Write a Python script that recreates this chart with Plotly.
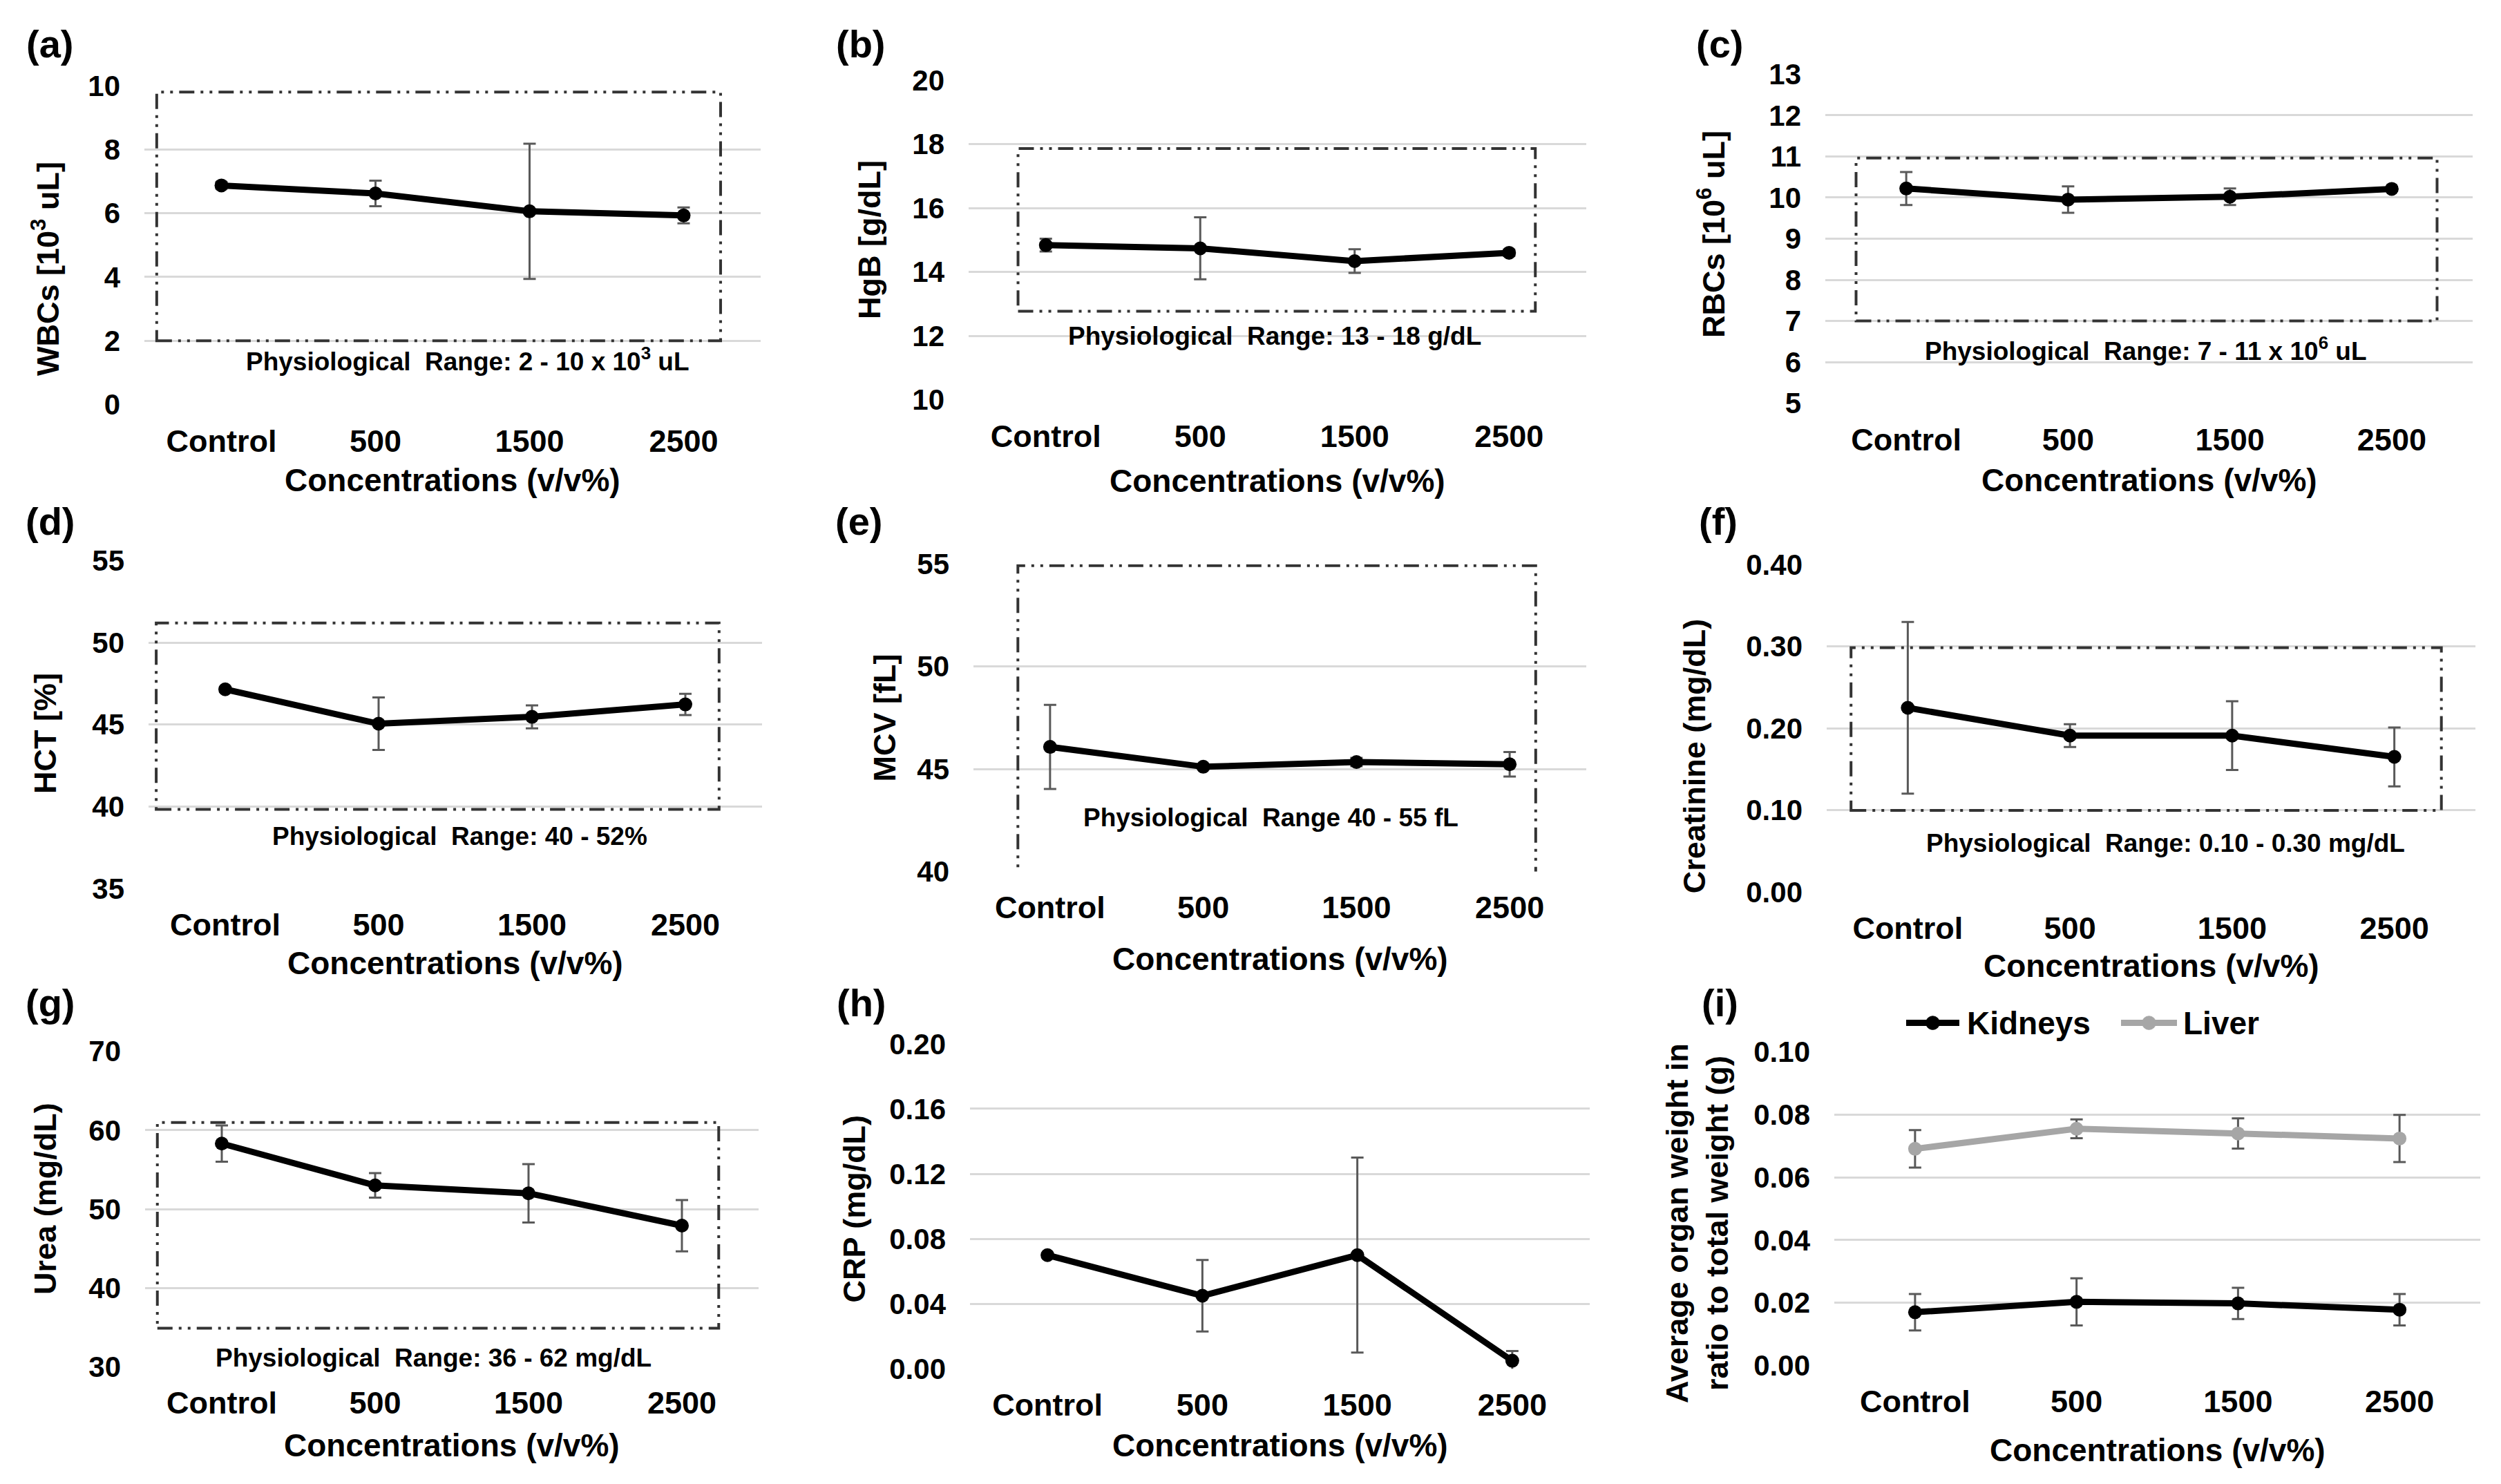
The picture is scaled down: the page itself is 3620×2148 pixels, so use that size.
import plotly.graph_objects as go

# ---------------- data ----------------
categories = ["Control", "500", "1500", "2500"]

wbc = [6.87, 6.62, 6.06, 5.93]
wbc_err = [0.1, 0.4, 2.12, 0.25]

hgb = [14.84, 14.74, 14.34, 14.60]
hgb_err = [0.2, 0.97, 0.37, 0.1]

rbc = [10.22, 9.95, 10.02, 10.21]
rbc_err = [0.4, 0.32, 0.2, 0.05]

hct = [47.15, 45.05, 45.47, 46.23]
hct_err = [0.15, 1.6, 0.7, 0.65]

mcv = [46.08, 45.11, 45.34, 45.23]
mcv_err = [2.05, 0.1, 0.2, 0.6]

creatinine = [0.225, 0.191, 0.191, 0.165]
creatinine_err = [0.105, 0.014, 0.042, 0.036]

urea = [58.3, 53.0, 52.0, 47.9]
urea_err = [2.3, 1.55, 3.7, 3.25]

crp = [0.070, 0.045, 0.070, 0.005]
crp_err = [0.0, 0.022, 0.060, 0.006]

kidneys = [0.0170, 0.0203, 0.0198, 0.0178]
kidneys_err = [0.0058, 0.0075, 0.0050, 0.0050]

liver = [0.0691, 0.0755, 0.0740, 0.0724]
liver_err = [0.0060, 0.0030, 0.0048, 0.0075]

series_names = ["Kidneys", "Liver"]
series_colors = ["black", "#a6a6a6"]

# ---------------- layout helpers ----------------
W, H = 3620, 2148
FONT = "Liberation Sans"
ERR_COLOR = "#595959"


def fx(p):
    return p / W


def fy(p):
    return 1 - p / H


panels = [
    dict(label="(a)", ys=[(wbc, wbc_err, "black")], rng=[0, 10], dtick=2, fmt="d",
         px=(201, 1093), py=(95, 567), ytitle="WBCs [10<sup>3</sup> uL]", yt=(58, 366), lab=(64, 33), xty=679,
         box=(-0.42, 3.24, 2.0, 9.8), phys=(1.6, 1.42, "Physiological\u00a0 Range: 2 - 10 x 10<sup>3</sup> uL")),
    dict(label="(b)", ys=[(hgb, hgb_err, "black")], rng=[10, 20], dtick=2, fmt="d",
         px=(1394, 2288), py=(87, 560), ytitle="HgB [g/dL]", yt=(1251, 323), lab=(1238, 33), xty=680,
         box=(-0.18, 3.17, 12.77, 17.86), phys=(1.48, 12.0, "Physiological\u00a0 Range: 13 - 18 g/dL")),
    dict(label="(c)", ys=[(rbc, rbc_err, "black")], rng=[5, 13], dtick=1, fmt="d",
         px=(2634, 3571), py=(78, 565), ytitle="RBCs [10<sup>6</sup> uL]", yt=(2469, 315), lab=(2481, 33), xty=679,
         box=(-0.31, 3.28, 7.0, 10.96), phys=(1.48, 6.31, "Physiological\u00a0 Range: 7 - 11 x 10<sup>6</sup> uL")),
    dict(label="(d)", ys=[(hct, hct_err, "black")], rng=[35, 55], dtick=5, fmt="d",
         px=(207, 1095), py=(798, 1283), ytitle="HCT [%]", yt=(58, 1054), lab=(65, 740), xty=1393,
         box=(-0.45, 3.22, 39.82, 51.2), phys=(1.53, 38.16, "Physiological\u00a0 Range: 40 - 52%")),
    dict(label="(e)", ys=[(mcv, mcv_err, "black")], rng=[40, 55], dtick=5, fmt="d",
         px=(1401, 2288), py=(803, 1258), ytitle="MCV [fL]", yt=(1272, 1031), lab=(1235, 740), xty=1387,
         box=(-0.21, 3.17, 39.77, 54.92), phys=(1.44, 42.62, "Physiological\u00a0 Range 40 - 55 fL")),
    dict(label="(f)", ys=[(creatinine, creatinine_err, "black")], rng=[0, 0.4], dtick=0.1, fmt=".2f",
         px=(2636, 3575), py=(804, 1288), ytitle="Creatinine (mg/dL)", yt=(2444, 1087), lab=(2479, 740), xty=1398,
         box=(-0.35, 3.29, 0.0995, 0.2986), phys=(1.59, 0.0593, "Physiological\u00a0 Range: 0.10 - 0.30 mg/dL")),
    dict(label="(g)", ys=[(urea, urea_err, "black")], rng=[30, 70], dtick=10, fmt="d",
         px=(202, 1090), py=(1524, 1991), ytitle="Urea (mg/dL)", yt=(58, 1742), lab=(65, 1452), xty=2107,
         box=(-0.42, 3.24, 34.9, 60.97), phys=(1.38, 31.1, "Physiological\u00a0 Range: 36 - 62 mg/dL")),
    dict(label="(h)", ys=[(crp, crp_err, "black")], rng=[0, 0.2], dtick=0.04, fmt=".2f",
         px=(1396, 2293), py=(1513, 1994), ytitle="CRP (mg/dL)", yt=(1229, 1757), lab=(1239, 1452), xty=2107,
         box=None, phys=None),
    dict(label="(i)", ys=[(kidneys, kidneys_err, series_colors[0]), (liver, liver_err, series_colors[1])],
         rng=[0, 0.1], dtick=0.02, fmt=".2f",
         px=(2647, 3582), py=(1525, 1989), ytitle="Average organ weight in<br>ratio to total weight (g)",
         yt=(2449, 1779), lab=(2481, 1452), xty=2114, box=None, phys=None),
]

fig = go.Figure()
layout = dict(
    width=W, height=H, margin=dict(l=0, r=0, t=0, b=0),
    paper_bgcolor="white", plot_bgcolor="white",
    font=dict(family=FONT, color="black", size=40),
    showlegend=False,
)
annotations = []
shapes = []

for i, p in enumerate(panels):
    n = "" if i == 0 else str(i + 1)
    xa, ya = "x" + n, "y" + n
    for (vals, err, col) in p["ys"]:
        fig.add_trace(go.Scatter(
            x=categories, y=vals, xaxis=xa, yaxis=ya,
            mode="lines+markers", showlegend=False,
            line=dict(color=col, width=9),
            marker=dict(size=20, color=col),
            error_y=dict(type="data", array=err, visible=True, color=ERR_COLOR, thickness=3, width=9),
        ))
    layout["xaxis" + n] = dict(
        domain=[fx(p["px"][0]), fx(p["px"][1])], anchor=ya,
        type="category", range=[-0.5, 3.5], showgrid=False, showline=False, zeroline=False,
        ticks="", ticklabelstandoff=22,
        tickfont=dict(family=FONT, size=45, color="black", weight="bold"),
    )
    layout["yaxis" + n] = dict(
        domain=[fy(p["py"][1]), fy(p["py"][0])], anchor=xa,
        range=p["rng"], dtick=p["dtick"], tick0=p["rng"][0], tickformat=p["fmt"],
        showgrid=True, gridcolor="#d9d9d9", gridwidth=3, zeroline=False, showline=False,
        ticks="", ticklabelstandoff=34,
        tickfont=dict(family=FONT, size=42, color="black", weight="bold"),
    )
    annotations.append(dict(text=p["label"], x=fx(p["lab"][0]), y=fy(p["lab"][1]), xref="paper", yref="paper",
                            xanchor="center", yanchor="middle", showarrow=False,
                            font=dict(family=FONT, size=56, color="black", weight="bold")))
    annotations.append(dict(text=p["ytitle"], x=fx(p["yt"][0]), y=fy(p["yt"][1]), xref="paper", yref="paper",
                            xanchor="center", yanchor="middle", showarrow=False, textangle=-90,
                            font=dict(family=FONT, size=45, color="black", weight="bold")))
    annotations.append(dict(text="Concentrations (v/v%)", x=(fx(p["px"][0]) + fx(p["px"][1])) / 2,
                            y=fy(p["xty"]), xref="paper", yref="paper",
                            xanchor="center", yanchor="middle", showarrow=False,
                            font=dict(family=FONT, size=46, color="black", weight="bold")))
    if p["phys"]:
        annotations.append(dict(text=p["phys"][2], x=p["phys"][0], y=p["phys"][1], xref=xa, yref=ya,
                                xanchor="center", yanchor="middle", showarrow=False,
                                font=dict(family=FONT, size=37, color="black", weight="bold")))
    if p["box"]:
        b = p["box"]
        shapes.append(dict(type="rect", xref=xa, yref=ya, x0=b[0], x1=b[1], y0=b[2], y1=b[3],
                           line=dict(color="#333333", width=4, dash="22px,9px,4px,9px,4px,9px"),
                           fillcolor="rgba(0,0,0,0)"))

# legend for panel (i), drawn as line + marker + label
legend_items = [(2751, 2828, 2837), (3062, 3143, 3150)]
LEG_Y = 1482
for (x0, x1, xt), name, col in zip(legend_items, series_names, series_colors):
    shapes.append(dict(type="line", xref="paper", yref="paper", x0=fx(x0), x1=fx(x1), y0=fy(LEG_Y), y1=fy(LEG_Y),
                       line=dict(color=col, width=9)))
    xc = (x0 + x1) / 2
    shapes.append(dict(type="circle", xref="paper", yref="paper", x0=fx(xc - 10), x1=fx(xc + 10),
                       y0=fy(LEG_Y + 10), y1=fy(LEG_Y - 10), fillcolor=col, line=dict(color=col, width=1)))
    annotations.append(dict(text=name, x=fx(xt), y=fy(LEG_Y), xref="paper", yref="paper",
                            xanchor="left", yanchor="middle", showarrow=False,
                            font=dict(family=FONT, size=46, color="black", weight="bold")))

layout["annotations"] = annotations
layout["shapes"] = shapes
fig.update_layout(**layout)
fig.write_html("out.html")
